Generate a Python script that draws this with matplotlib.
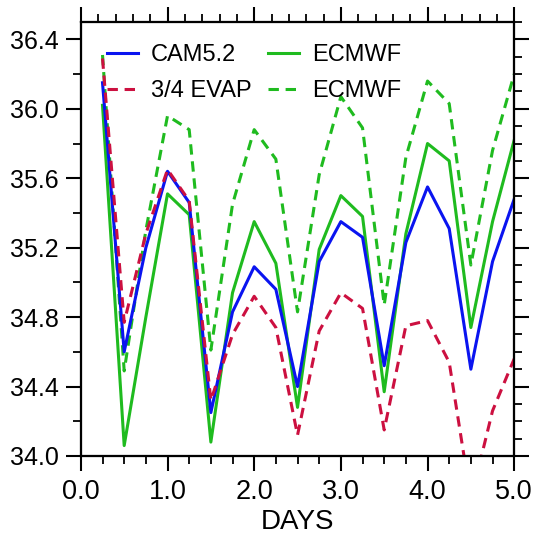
import numpy as np
import matplotlib
matplotlib.use("Agg")
import matplotlib.pyplot as plt
from matplotlib.ticker import MultipleLocator

plt.rcParams["font.family"] = ["Liberation Sans", "DejaVu Sans"]

DAYS = [0.25, 0.5, 0.75, 1.0, 1.25, 1.5, 1.75, 2.0, 2.25, 2.5,
        2.75, 3.0, 3.25, 3.5, 3.75, 4.0, 4.25, 4.5, 4.75, 5.0]
CAM = [36.15, 34.60, 35.20, 35.64, 35.46, 34.25, 34.83, 35.09, 34.96, 34.40,
       35.12, 35.35, 35.26, 34.52, 35.23, 35.55, 35.31, 34.50, 35.12, 35.48]
EVAP = [36.29, 34.77, 35.28, 35.65, 35.47, 34.32, 34.70, 34.92, 34.74, 34.12,
        34.72, 34.94, 34.85, 34.15, 34.75, 34.78, 34.54, 33.75, 34.26, 34.56]
ECMWF = [36.02, 34.06, 34.80, 35.51, 35.39, 34.08, 34.94, 35.35, 35.11, 34.28,
         35.19, 35.50, 35.38, 34.37, 35.28, 35.80, 35.70, 34.74, 35.35, 35.82]
ECMWF_D = [36.31, 34.49, 35.30, 35.96, 35.88, 34.61, 35.45, 35.88, 35.71, 34.83,
           35.62, 36.07, 35.89, 34.87, 35.72, 36.16, 36.03, 35.10, 35.76, 36.20]

BLUE, GREEN, RED = "#0a14f0", "#1fbb1f", "#cc1040"
LW = 2.2
DASH = (0, (3.4, 2.2))

fig = plt.figure(figsize=(5.39, 5.42), dpi=100)
ax = fig.add_axes([0.150, 0.1587, 0.804, 0.8007])

h_cam, = ax.plot(DAYS, CAM, color=BLUE, lw=LW, label="CAM5.2", zorder=4)
h_evap, = ax.plot(DAYS, EVAP, color=RED, lw=LW, ls=DASH, label="3/4 EVAP", zorder=5)
h_ec, = ax.plot(DAYS, ECMWF, color=GREEN, lw=LW, label="ECMWF", zorder=3)
h_ecd, = ax.plot(DAYS, ECMWF_D, color=GREEN, lw=LW, ls=DASH, label="ECMWF", zorder=3)

ax.set_xlim(0, 5)
ax.set_ylim(34.0, 36.5)
ax.xaxis.set_major_locator(MultipleLocator(1.0))
ax.xaxis.set_minor_locator(MultipleLocator(0.25))
ax.yaxis.set_major_locator(MultipleLocator(0.4))
ax.yaxis.set_minor_locator(MultipleLocator(0.2))
ax.xaxis.set_major_formatter(matplotlib.ticker.FormatStrFormatter("%.1f"))
ax.yaxis.set_major_formatter(matplotlib.ticker.FormatStrFormatter("%.1f"))
ax.tick_params(axis="x", which="major", direction="out", length=10.5, width=1.5,
               labelsize=19.5, pad=6)
ax.tick_params(axis="y", which="major", direction="out", length=11, width=1.5,
               labelsize=18, pad=5)
ax.tick_params(which="minor", direction="out", length=5.5, width=1.3)
ax.set_xlabel("DAYS", fontsize=20, labelpad=3)

# top axis: minor every 0.2 days
axt = ax.twiny()
axt.set_xlim(ax.get_xlim())
axt.xaxis.set_major_locator(MultipleLocator(1.0))
axt.xaxis.set_minor_locator(MultipleLocator(0.2))
axt.tick_params(axis="x", which="major", direction="out", length=11, width=1.5, labeltop=False)
axt.tick_params(axis="x", which="minor", direction="out", length=5.5, width=1.3)

# right axis: minor every 0.1
axr = ax.twinx()
axr.set_ylim(ax.get_ylim())
axr.yaxis.set_major_locator(MultipleLocator(0.4))
axr.yaxis.set_minor_locator(MultipleLocator(0.1))
axr.tick_params(axis="y", which="major", direction="out", length=11, width=1.5, labelright=False)
axr.tick_params(axis="y", which="minor", direction="out", length=5.5, width=1.3)

for a in (ax, axt, axr):
    for sp in a.spines.values():
        sp.set_linewidth(1.5)

ax.legend(handles=[h_cam, h_evap, h_ec, h_ecd], ncol=2, frameon=False,
          fontsize=17, loc="upper left", bbox_to_anchor=(0.05, 0.96),
          handlelength=1.31, handletextpad=0.55, columnspacing=0.68,
          labelspacing=0.6, borderaxespad=0, borderpad=0.2)

fig.savefig("out.png", dpi=100)
